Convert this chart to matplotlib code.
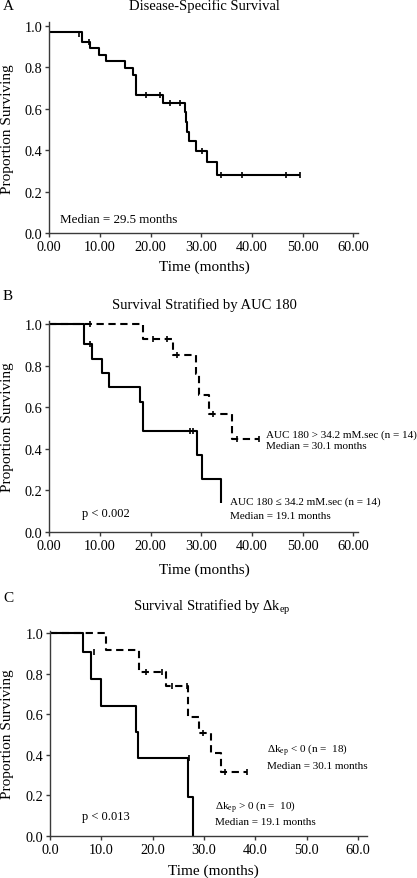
import numpy as np
import matplotlib
matplotlib.use("Agg")
import matplotlib.pyplot as plt

plt.rcParams['font.family'] = ['Liberation Serif', 'DejaVu Serif']
plt.rcParams['mathtext.fontset'] = 'custom'
plt.rcParams['mathtext.rm'] = 'Liberation Serif'
plt.rcParams['mathtext.it'] = 'Liberation Serif:italic'

# ---------------- data ----------------
# Panel A: Disease-specific survival
a_times = [0, 6.5, 8.0, 9.9, 11.2, 15.0, 16.6, 17.1, 22.4, 26.8, 27.0, 27.2, 27.6, 28.9, 31.2, 33.2, 49.5]
a_surv = [0.968, 0.923, 0.891, 0.860, 0.830, 0.795, 0.762, 0.666, 0.628, 0.583, 0.535, 0.490, 0.446, 0.398, 0.342, 0.283, 0.283]
a_cens_t = [5.9, 7.9, 19.0, 21.8, 23.8, 25.8, 30.2, 33.8, 38.0, 46.8, 49.5]
a_cens_s = [0.962, 0.923, 0.666, 0.666, 0.628, 0.628, 0.398, 0.283, 0.283, 0.283, 0.283]

# Panel B: AUC 180
b_hi_times = [0, 18.4, 24.5, 28.95, 29.5, 31.6, 36.0, 41.3]
b_hi_surv = [1.0, 0.929, 0.850, 0.757, 0.660, 0.567, 0.446, 0.446]
b_hi_cens_t = [8.0, 20.4, 23.3, 25.3, 32.4, 37.0, 41.3]
b_hi_cens_s = [1.0, 0.929, 0.929, 0.850, 0.567, 0.446, 0.446]

b_lo_times = [0, 6.85, 8.35, 10.46, 11.85, 17.9, 18.55, 29.08, 30.07, 33.9]
b_lo_surv = [1.0, 0.905, 0.833, 0.762, 0.696, 0.625, 0.484, 0.370, 0.254, 0.140]
b_lo_cens_t = [8.0, 27.8, 28.3]
b_lo_cens_s = [0.905, 0.484, 0.484]

# Panel C: delta k_ep
c_neg_times = [0, 11.0, 17.3, 22.6, 26.8, 29.1, 31.4, 33.3, 38.3]
c_neg_surv = [1.0, 0.918, 0.806, 0.740, 0.585, 0.506, 0.410, 0.313, 0.313]
c_neg_cens_t = [18.8, 21.8, 23.7, 26.6, 29.9, 34.1, 38.3]
c_neg_cens_s = [0.806, 0.806, 0.740, 0.740, 0.506, 0.313, 0.313]

c_pos_times = [0, 6.5, 7.9, 9.9, 16.7, 17.2, 26.9, 27.8]
c_pos_surv = [1.0, 0.905, 0.773, 0.641, 0.513, 0.386, 0.190, 0.0]
c_pos_cens_t = [8.6, 27.1]
c_pos_cens_s = [0.905, 0.386]

y_ticks = [0.0, 0.2, 0.4, 0.6, 0.8, 1.0]
x_ticks = [0, 10, 20, 30, 40, 50, 60]

# ---------------- figure ----------------
W, H = 417, 879
fig = plt.figure(figsize=(W / 100, H / 100), dpi=100)

SPINE = '#3a3a3a'


def px_axes(l, r, top, bottom):
    return fig.add_axes([l / W, 1 - bottom / H, (r - l) / W, (bottom - top) / H])


def style(ax, xmax, ymax, xfmt):
    ax.set_xlim(0, xmax)
    ax.set_ylim(0, ymax)
    for s in ['top', 'right']:
        ax.spines[s].set_visible(False)
    for s in ['left', 'bottom']:
        ax.spines[s].set_color(SPINE)
        ax.spines[s].set_linewidth(1.0)
    ax.set_yticks(y_ticks)
    ax.set_yticklabels([f"{v:.1f}" for v in y_ticks])
    ax.set_xticks(x_ticks)
    ax.set_xticklabels([xfmt.format(v) for v in x_ticks])
    ax.tick_params(direction='out', length=3, width=1.0, color=SPINE,
                   labelsize=10.3, pad=2)


def km(ax, t, s, ct, cs, dashed=False):
    kw = dict(color='black', lw=1.5)
    if dashed:
        kw['dashes'] = (3.5, 2.2)
    ax.step(t, s, where='post', solid_capstyle='butt', **kw)
    ax.plot(ct, cs, ls='none', marker='|', ms=5, mew=1.2, color='black')


# Panel A
axA = px_axes(49.3, 358.3, 23.3, 234.3)
style(axA, 61.0, 1.016, "{:.2f}")
km(axA, a_times, a_surv, a_cens_t, a_cens_s)
axA.text(2.1, 0.069, "Median = 29.5 months", fontsize=9.4, va='center', ha='left')
fig.text(3 / W, 1 - 7 / H, "A", fontsize=11, va='center', ha='left')
fig.text(204 / W, 1 - 6 / H, "Disease-Specific Survival", fontsize=10.5, va='center', ha='center')
fig.text(8 / W, 1 - 129 / H, "Proportion Surviving", fontsize=11, rotation=90, va='center', ha='center')
fig.text(204 / W, 1 - 267 / H, "Time (months)", fontsize=11, va='center', ha='center')

# Panel B
axB = px_axes(49.3, 358.3, 321.7, 532.7)
style(axB, 61.0, 1.016, "{:.2f}")
km(axB, b_hi_times, b_hi_surv, b_hi_cens_t, b_hi_cens_s, dashed=True)
km(axB, b_lo_times, b_lo_surv, b_lo_cens_t, b_lo_cens_s)
axB.text(42.7, 0.47, "AUC 180 > 34.2 mM.sec (n = 14)", fontsize=8, va='center', ha='left', clip_on=False)
axB.text(42.7, 0.414, "Median = 30.1 months", fontsize=8, va='center', ha='left', clip_on=False)
axB.text(35.65, 0.149, "AUC 180 \u2264 34.2 mM.sec (n = 14)", fontsize=8, va='center', ha='left', clip_on=False)
axB.text(35.65, 0.08, "Median = 19.1 months", fontsize=8, va='center', ha='left', clip_on=False)
axB.text(6.4, 0.09, "p < 0.002", fontsize=9, va='center', ha='left')
fig.text(3 / W, 1 - 297 / H, "B", fontsize=11, va='center', ha='left')
fig.text(204 / W, 1 - 305 / H, "Survival Stratified by AUC 180", fontsize=10.5, va='center', ha='center')
fig.text(8 / W, 1 - 427 / H, "Proportion Surviving", fontsize=11, rotation=90, va='center', ha='center')
fig.text(204 / W, 1 - 570 / H, "Time (months)", fontsize=11, va='center', ha='center')

# Panel C
axC = px_axes(50.0, 366.7, 631.7, 836.7)
style(axC, 61.7, 1.012, "{:.1f}")
km(axC, c_neg_times, c_neg_surv, c_neg_cens_t, c_neg_cens_s, dashed=True)
km(axC, c_pos_times, c_pos_surv, c_pos_cens_t, c_pos_cens_s)
axC.text(42.2, 0.428, "\u0394k$_{\\rm ep}$ < 0 (n =  18)", fontsize=8, va='center', ha='left')
axC.text(42.2, 0.345, "Median = 30.1 months", fontsize=8, va='center', ha='left')
axC.text(32.1, 0.148, "\u0394k$_{\\rm ep}$ > 0 (n =  10)", fontsize=8, va='center', ha='left')
axC.text(32.1, 0.069, "Median = 19.1 months", fontsize=8, va='center', ha='left')
axC.text(6.2, 0.099, "p < 0.013", fontsize=9, va='center', ha='left')
fig.text(3 / W, 1 - 599 / H, "C", fontsize=11, va='center', ha='left')
fig.text(212 / W, 1 - 608 / H, "Survival Stratified by \u0394k$_{\\rm ep}$", fontsize=10.5, va='center', ha='center')
fig.text(8 / W, 1 - 734 / H, "Proportion Surviving", fontsize=11, rotation=90, va='center', ha='center')
fig.text(213 / W, 1 - 871 / H, "Time (months)", fontsize=11, va='center', ha='center')

fig.savefig("out.png", dpi=100)
